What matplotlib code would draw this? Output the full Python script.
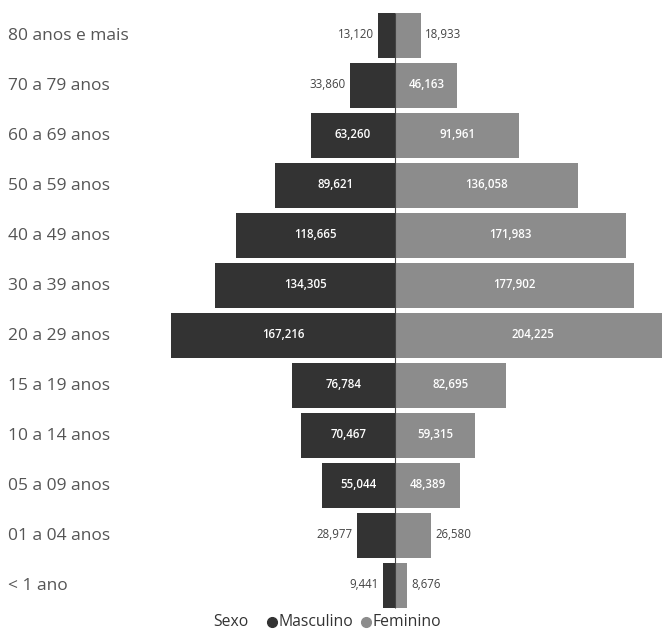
import matplotlib
matplotlib.use("Agg")
import matplotlib.pyplot as plt
import matplotlib.transforms as mtransforms
from matplotlib.lines import Line2D

categories = ["80 anos e mais", "70 a 79 anos", "60 a 69 anos", "50 a 59 anos",
              "40 a 49 anos", "30 a 39 anos", "20 a 29 anos", "15 a 19 anos",
              "10 a 14 anos", "05 a 09 anos", "01 a 04 anos", "< 1 ano"]
masculino = [13120, 33860, 63260, 89621, 118665, 134305, 167216, 76784,
             70467, 55044, 28977, 9441]
feminino = [18933, 46163, 91961, 136058, 171983, 177902, 204225, 82695,
            59315, 48389, 26580, 8676]

plt.rcParams['font.family'] = ['Open Sans', 'DejaVu Sans']

c_m = "#333333"
c_f = "#8c8c8c"

fig = plt.figure(figsize=(6.62, 6.32), dpi=100)
W, H = 662, 632
ax = fig.add_axes([170 / W, (H - 610) / H, (662 - 170) / W, 600 / H])

y = list(range(len(categories)))
ax.barh(y, [-v for v in masculino], height=0.9, color=c_m, edgecolor="none")
ax.barh(y, feminino, height=0.9, color=c_f, edgecolor="none")
ax.set_xlim(-168000, 198600)
ax.set_ylim(len(categories) - 0.5, -0.5)
ax.vlines(0, -0.45, len(categories) - 0.55, color="#444444", lw=0.8)
ax.axis("off")

threshold = 40000
off = 3000
fs = 8.3
for i, (m, f) in enumerate(zip(masculino, feminino)):
    if m >= threshold:
        ax.text(-m / 2, i, f"{m:,}", ha="center", va="center", color="white",
                fontsize=fs, fontweight="semibold")
    else:
        ax.text(-m - off, i, f"{m:,}", ha="right", va="center", color="#444444",
                fontsize=fs)
    if f >= threshold:
        ax.text(f / 2, i, f"{f:,}", ha="center", va="center", color="white",
                fontsize=fs, fontweight="semibold", clip_on=False)
    else:
        ax.text(f + off, i, f"{f:,}", ha="left", va="center", color="#444444",
                fontsize=fs)

trans = mtransforms.blended_transform_factory(fig.transFigure, ax.transData)
for i, c in enumerate(categories):
    ax.text(8 / W, i + 0.02, c, transform=trans, ha="left", va="center",
            fontsize=12.5, color="#555555")

ly = 1 - 622 / H
fig.text(213 / W, ly, "Sexo", ha="left", va="center", fontsize=11.3, color="#333333")
fig.add_artist(Line2D([272 / W], [ly], marker="o", ls="none", color=c_m,
                      markersize=7, transform=fig.transFigure))
fig.text(279 / W, ly, "Masculino", ha="left", va="center", fontsize=11.3, color="#333333")
fig.add_artist(Line2D([366 / W], [ly], marker="o", ls="none", color=c_f,
                      markersize=7, transform=fig.transFigure))
fig.text(373 / W, ly, "Feminino", ha="left", va="center", fontsize=11.3, color="#333333")

fig.savefig("out.png", dpi=100, facecolor="white")
